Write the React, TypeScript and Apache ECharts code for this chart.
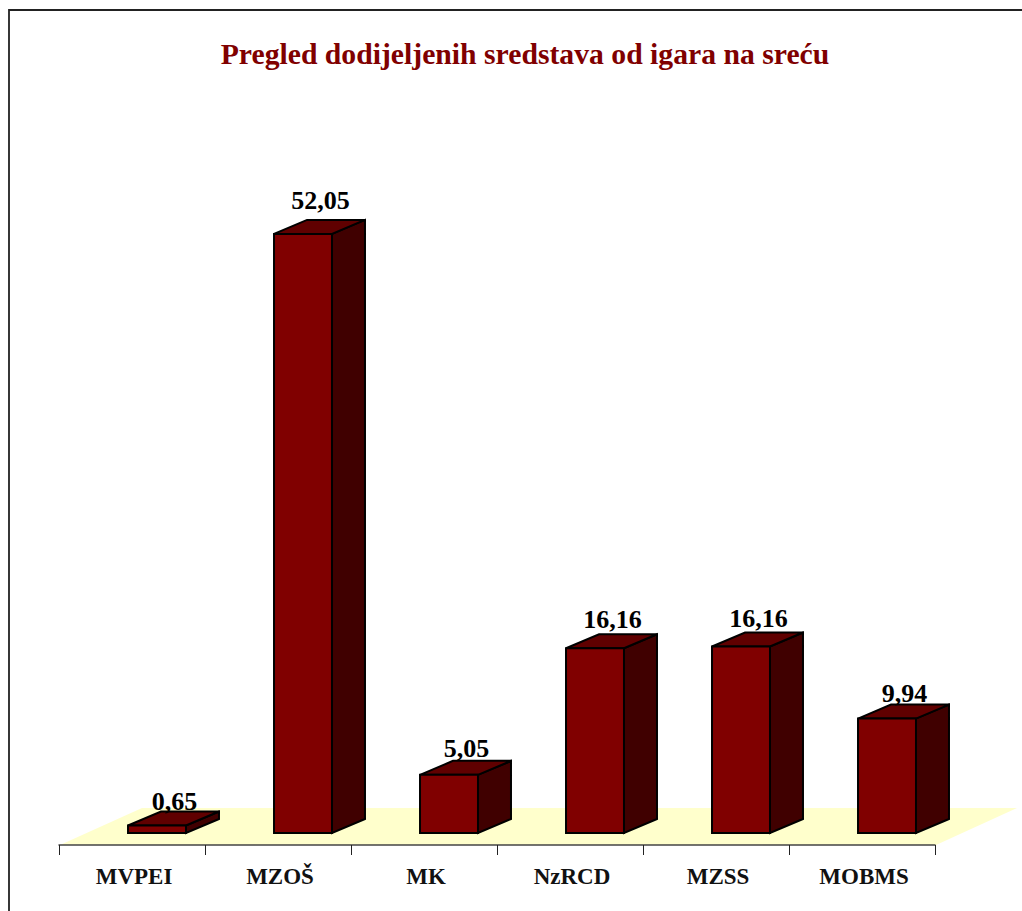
import React, { useEffect, useRef } from "react";
import * as echarts from "echarts";

const categories = ["MVPEI", "MZOŠ", "MK", "NzRCD", "MZSS", "MOBMS"];
const values = [0.65, 52.05, 5.05, 16.05, 16.2, 9.94];
const valueLabels = ["0,65", "52,05", "5,05", "16,16", "16,16", "9,94"];
const titleText = "Pregled dodijeljenih sredstava od igara na sreću";

const FONT = '"Liberation Serif", "Times New Roman", serif';
const PX_PER_UNIT = 11.51;
const AXIS_Y = 845;
const AXIS_LEFT = 59;
const AXIS_RIGHT = 935;
const Y_MAX = 60;
const LIFT_X = 25;
const LIFT_Y = 12;
const DEPTH_X = 33;
const DEPTH_Y = 14;
const labelGaps = [-3, 6, -1, 2, 1, -2];

export default function App() {
  const ref = useRef<HTMLDivElement>(null);
  useEffect(() => {
    document.body.style.margin = "0";
    const chart = echarts.init(ref.current!, undefined, { renderer: "svg" });
    chart.setOption({
      animation: false,
      backgroundColor: "#ffffff",
      title: {
        text: titleText,
        left: 520,
        top: 34,
        textAlign: "center",
        textStyle: { fontFamily: FONT, fontSize: 29.7, fontWeight: "bold", color: "#800000" },
      },
      graphic: [
        {
          type: "rect",
          shape: { x: 9, y: 10, width: 1040, height: 940 },
          style: { fill: "none", stroke: "#222222", lineWidth: 1.8 },
          silent: true,
        },
      ],
      grid: {
        left: AXIS_LEFT,
        width: AXIS_RIGHT - AXIS_LEFT,
        top: AXIS_Y - Y_MAX * PX_PER_UNIT,
        height: Y_MAX * PX_PER_UNIT,
      },
      xAxis: {
        type: "category",
        data: categories,
        z: 5,
        axisLine: { lineStyle: { color: "#444444", width: 1.5 } },
        axisTick: { show: true, length: 10, alignWithLabel: false, lineStyle: { color: "#222222", width: 1 } },
        axisLabel: {
          fontFamily: FONT,
          fontSize: 23,
          fontWeight: "bold",
          color: "#111111",
          margin: 20,
          interval: 0,
          padding: [0, 0, 0, 4],
        },
      },
      yAxis: { type: "value", min: 0, max: Y_MAX, show: false, splitLine: { show: false } },
      series: [
        {
          type: "custom",
          coordinateSystem: "cartesian2d",
          z: 1,
          silent: true,
          data: [[0, 0]],
          renderItem: (params: any) => {
            const c = params.coordSys;
            const b = c.y + c.height;
            const dx = 83;
            const dy = 37;
            return {
              type: "polygon",
              shape: {
                points: [
                  [c.x + 1, b],
                  [c.x + c.width + 1, b],
                  [c.x + c.width + dx - 1, b - dy],
                  [c.x + dx, b - dy],
                ],
              },
              style: { fill: "#ffffcc", stroke: "none" },
            };
          },
        },
        {
          type: "custom",
          coordinateSystem: "cartesian2d",
          z: 3,
          silent: true,
          data: values.map((v, i) => [i, v]),
          encode: { x: 0, y: 1 },
          renderItem: (params: any, api: any) => {
            const i = api.value(0);
            const top = api.coord([i, api.value(1)]);
            const base = api.coord([i, 0]);
            const w = api.size([1, 0])[0] * 0.397;
            const x0 = top[0] + LIFT_X - w / 2;
            const x1 = x0 + w;
            const yT = top[1] - LIFT_Y;
            const yB = base[1] - LIFT_Y;
            const edge = { stroke: "#000000", lineWidth: 2, lineJoin: "miter" };
            return {
              type: "group",
              children: [
                {
                  type: "polygon",
                  shape: { points: [[x1, yT], [x1 + DEPTH_X, yT - DEPTH_Y], [x1 + DEPTH_X, yB - DEPTH_Y], [x1, yB]] },
                  style: { fill: "#400000", ...edge },
                },
                {
                  type: "polygon",
                  shape: { points: [[x0, yT], [x0 + DEPTH_X, yT - DEPTH_Y], [x1 + DEPTH_X, yT - DEPTH_Y], [x1, yT]] },
                  style: { fill: "#600000", ...edge },
                },
                {
                  type: "rect",
                  shape: { x: x0, y: yT, width: w, height: yB - yT },
                  style: { fill: "#800000", ...edge },
                },
                {
                  type: "text",
                  style: {
                    text: valueLabels[params.dataIndex],
                    x: (x0 + x1) / 2 + DEPTH_X / 2 + 1,
                    y: yT - DEPTH_Y - labelGaps[params.dataIndex],
                    textAlign: "center",
                    textVerticalAlign: "bottom",
                    font: `bold 26px ${FONT}`,
                    fill: "#000000",
                  },
                },
              ],
            };
          },
        },
      ],
    });
    return () => chart.dispose();
  }, []);
  return <div ref={ref} style={{ width: 1022, height: 911 }} />;
}
